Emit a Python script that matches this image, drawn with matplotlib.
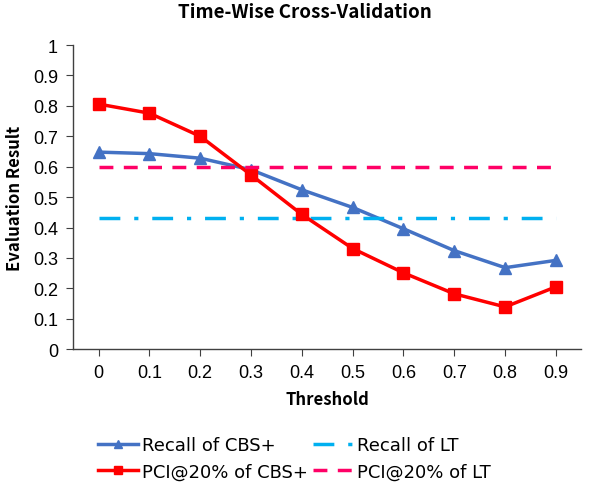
import matplotlib
matplotlib.use('Agg')
import matplotlib.pyplot as plt
import numpy as np

# chart data
thresholds = ['0', '0.1', '0.2', '0.3', '0.4', '0.5', '0.6', '0.7', '0.8', '0.9']
recall_cbs = [0.648, 0.643, 0.628, 0.590, 0.524, 0.466, 0.396, 0.324, 0.268, 0.292]
pci_cbs = [0.806, 0.776, 0.700, 0.573, 0.443, 0.331, 0.251, 0.182, 0.139, 0.205]
recall_lt = [0.43] * len(thresholds)
pci_lt = [0.60] * len(thresholds)

plt.rcParams['font.family'] = ['Liberation Sans', 'DejaVu Sans']
cjk = ['Noto Sans CJK SC', 'DejaVu Sans']

fig = plt.figure(figsize=(6.1, 4.85), dpi=100)
ax = fig.add_axes([0.12, 0.278, 0.833, 0.627])

x = np.arange(len(thresholds))

l1, = ax.plot(x, recall_cbs, color='#4472C4', lw=2.5, marker='^', ms=8, label='Recall of CBS+')
l2, = ax.plot(x, recall_lt, color='#00B0F0', lw=2.5, dashes=(6, 4, 1.2, 4), label='Recall of LT')
l3, = ax.plot(x, pci_cbs, color='#FF0000', lw=2.5, marker='s', ms=8, label='PCI@20% of CBS+')
l4, = ax.plot(x, pci_lt, color='#FF0066', lw=2.5, dashes=(4, 3), label='PCI@20% of LT')

ax.set_xlim(-0.5, len(thresholds) - 0.5)
ax.set_ylim(0, 1)
ax.set_xticks(x)
ax.set_xticklabels(thresholds)
ax.set_yticks(np.arange(0, 1.01, 0.1))
ax.set_yticklabels(['0', '0.1', '0.2', '0.3', '0.4', '0.5', '0.6', '0.7', '0.8', '0.9', '1'])

for s in ['top', 'right']:
    ax.spines[s].set_visible(False)
for s in ['left', 'bottom']:
    ax.spines[s].set_color('#404040')
    ax.spines[s].set_linewidth(1.0)
ax.tick_params(axis='both', labelsize=13, length=5, color='#404040', direction='out', pad=6)

# title is centred on the figure, not the axes
fig.text(0.5, 1 - 13 / 485, 'Time-Wise Cross-Validation', ha='center', va='center',
         fontsize=13.5, fontweight='bold', family=cjk)
ax.set_xlabel('Threshold', fontsize=12, fontweight='bold', labelpad=6, family=cjk)
ax.set_ylabel('Evaluation Result', fontsize=12, fontweight='bold', labelpad=6, family=cjk)

# column-wise fill: first column CBS+, second column LT
fig.legend([l1, l3, l2, l4], [l1.get_label(), l3.get_label(), l2.get_label(), l4.get_label()],
           loc='upper left', bbox_to_anchor=(0.134, 0.132), bbox_transform=fig.transFigure,
           ncol=2, frameon=False, prop={'family': 'DejaVu Sans', 'size': 13},
           handlelength=2.2, handletextpad=0.22, columnspacing=0.3,
           labelspacing=0.45, markerscale=0.7)

fig.savefig('out.png', dpi=100)
